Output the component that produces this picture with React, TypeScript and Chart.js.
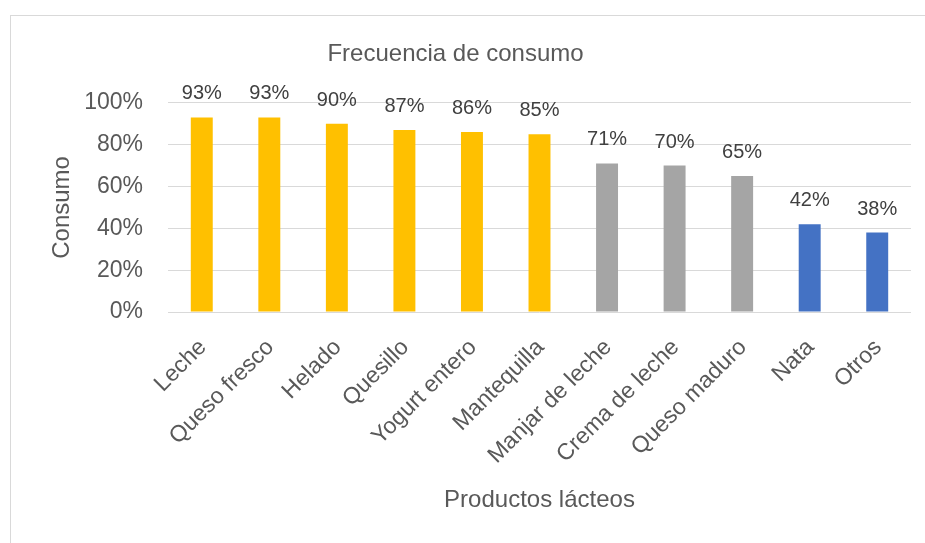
import React, { useEffect, useRef } from "react";
import { Chart, registerables } from "chart.js";

Chart.register(...registerables);

const categories = [
  "Leche",
  "Queso fresco",
  "Helado",
  "Quesillo",
  "Yogurt entero",
  "Mantequilla",
  "Manjar de leche",
  "Crema de leche",
  "Queso maduro",
  "Nata",
  "Otros",
];
const consumo = [93, 93, 90, 87, 86, 85, 71, 70, 65, 42, 38];
const barColors = [
  "#FFC000", "#FFC000", "#FFC000", "#FFC000", "#FFC000", "#FFC000",
  "#A5A5A5", "#A5A5A5", "#A5A5A5",
  "#4472C4", "#4472C4",
];
const yMin = 0;
const yMax = 100;
const yStep = 20;

const chartTitle = "Frecuencia de consumo";
const xTitle = "Productos lácteos";
const yTitle = "Consumo";

const FONT = '"Liberation Sans", Arial, sans-serif';
const AXIS_COLOR = "#595959";
const LABEL_COLOR = "#404040";
const GRID_COLOR = "#D9D9D9";

const dataLabelPlugin = {
  id: "dataLabels",
  afterDatasetsDraw(chart: any) {
    const ctx = chart.ctx;
    const meta = chart.getDatasetMeta(0);
    ctx.save();
    ctx.font = `20px ${FONT}`;
    ctx.fillStyle = LABEL_COLOR;
    ctx.textAlign = "center";
    ctx.textBaseline = "alphabetic";
    meta.data.forEach((el: any, i: number) => {
      ctx.fillText(`${consumo[i]}%`, el.x, el.y - 18);
    });
    ctx.restore();
  },
};

export default function App() {
  const ref = useRef<HTMLCanvasElement | null>(null);

  useEffect(() => {
    if (!ref.current) return;
    const chart = new Chart(ref.current, {
      type: "bar",
      data: {
        labels: categories,
        datasets: [
          {
            data: consumo,
            backgroundColor: barColors,
            borderWidth: 0,
            categoryPercentage: 0.325,
            barPercentage: 1,
          },
        ],
      },
      options: {
        responsive: false,
        animation: false,
        devicePixelRatio: 1,
        layout: { padding: { left: 0, right: 14, top: 0, bottom: 0 } },
        plugins: {
          legend: { display: false },
          tooltip: { enabled: false },
          title: {
            display: true,
            text: chartTitle,
            color: AXIS_COLOR,
            font: { family: FONT, size: 24, weight: "normal" },
            padding: { top: 40, bottom: 34 },
          },
        },
        scales: {
          x: {
            grid: { display: false, drawTicks: false },
            border: { display: false },
            ticks: {
              color: AXIS_COLOR,
              font: { family: FONT, size: 23 },
              minRotation: 45,
              maxRotation: 45,
              autoSkip: false,
              padding: 22,
              labelOffset: 1,
            },
            title: {
              display: true,
              text: xTitle,
              color: AXIS_COLOR,
              font: { family: FONT, size: 24 },
              padding: { top: 0, bottom: 28 },
            },
            afterFit(scale: any) {
              scale.height = 231;
            },
          },
          y: {
            min: yMin,
            max: yMax,
            grid: { color: GRID_COLOR, lineWidth: 1, drawTicks: false },
            border: { display: false },
            ticks: {
              stepSize: yStep,
              color: AXIS_COLOR,
              font: { family: FONT, size: 23 },
              padding: 25,
              callback: (v: any) => `${v}%`,
            },
            title: {
              display: true,
              text: yTitle,
              color: AXIS_COLOR,
              font: { family: FONT, size: 24 },
              padding: { top: 48, bottom: 0 },
            },
            afterFit(scale: any) {
              scale.width = 168;
            },
          },
        },
      },
      plugins: [dataLabelPlugin],
    });
    return () => chart.destroy();
  }, []);

  return (
    <div
      style={{
        position: "fixed",
        left: 0,
        top: 0,
        width: 925,
        height: 543,
        overflow: "hidden",
        background: "#ffffff",
      }}
    >
      <div
        style={{
          position: "absolute",
          left: 10,
          top: 15,
          width: 1000,
          height: 1000,
          borderLeft: "1px solid #D9D9D9",
          borderTop: "1px solid #D9D9D9",
          boxSizing: "border-box",
        }}
      />
      <canvas
        ref={ref}
        width={925}
        height={543}
        style={{ position: "absolute", left: 0, top: 0, width: 925, height: 543 }}
      />
    </div>
  );
}
